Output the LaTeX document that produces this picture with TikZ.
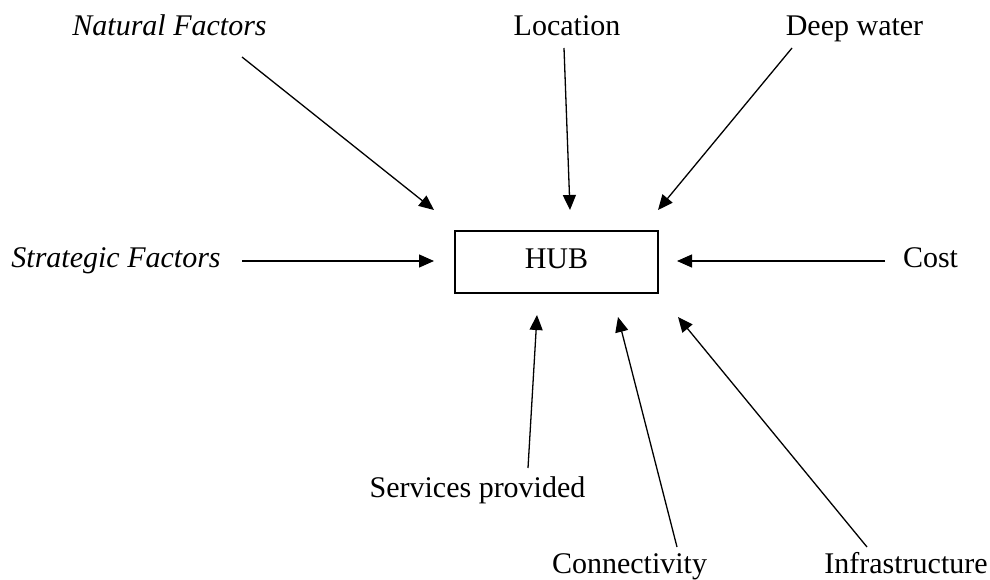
\documentclass[tikz,border=0pt]{standalone}
\usepackage{fontspec}
\setmainfont{Liberation Serif}
\usetikzlibrary{arrows.meta}
\begin{document}
\begin{tikzpicture}[x=1pt,y=-1pt,
  lbl/.style={inner sep=0pt,anchor=base,font=\fontsize{30}{36}\selectfont},
  ilbl/.style={lbl,font=\fontsize{30}{36}\selectfont\itshape},
  hubbox/.style={draw,line width=1.5pt,minimum width=203pt,minimum height=62pt,inner sep=0pt,
    text height=20pt,text depth=8pt,font=\fontsize{30}{36}\selectfont},
  arr/.style={line width=1.3pt,-{Triangle[length=15pt,width=13pt]}}]
\useasboundingbox (0,0) rectangle (990,580);
% hub
\node[hubbox] (hub) at (556.5,262) {HUB};
% labels
\node[ilbl] (nat) at (169.5,36) {Natural Factors};
\node[lbl] (loc) at (567,36) {Location};
\node[lbl] (deep) at (854.5,36) {Deep water};
\node[ilbl] (strat) at (116,267) {Strategic Factors};
\node[lbl] (cost) at (930.5,267) {Cost};
\node[lbl] (serv) at (477.5,497) {Services provided};
\node[lbl] (conn) at (629.5,573) {Connectivity};
\node[lbl] (infra) at (906,573) {Infrastructure};
% connector ends
\coordinate (natS) at (242,57);   \coordinate (natE) at (434,210);
\coordinate (locS) at (564,48);   \coordinate (locE) at (570,210);
\coordinate (deepS) at (792,48);  \coordinate (deepE) at (658,210);
\coordinate (stratS) at (242,261);\coordinate (stratE) at (434,261);
\coordinate (costS) at (885,261); \coordinate (costE) at (677,261);
\coordinate (servS) at (528,468); \coordinate (servE) at (537,315);
\coordinate (connS) at (677,547); \coordinate (connE) at (618,317);
\coordinate (infraS) at (867,547);\coordinate (infraE) at (678,317);
% connectors
\draw[arr] (natS) -- (natE);
\draw[arr] (locS) -- (locE);
\draw[arr] (deepS) -- (deepE);
\draw[arr] (stratS) -- (stratE);
\draw[arr] (costS) -- (costE);
\draw[arr] (servS) -- (servE);
\draw[arr] (connS) -- (connE);
\draw[arr] (infraS) -- (infraE);
\end{tikzpicture}
\end{document}
